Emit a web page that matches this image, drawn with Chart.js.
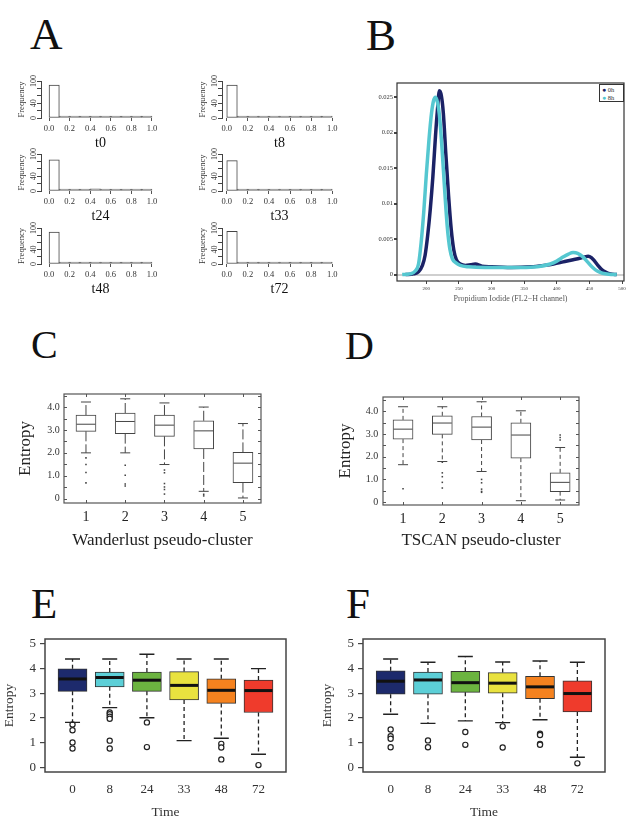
<!DOCTYPE html>
<html><head><meta charset="utf-8">
<script src="https://cdn.jsdelivr.net/npm/chart.js@4.4.1/dist/chart.umd.min.js"></script>
<style>
html,body{margin:0;padding:0;background:#fff}
body{width:627px;height:828px;position:relative;overflow:hidden;font-family:"Liberation Serif",serif}
canvas{position:absolute}
.letter{position:absolute;font-family:"Liberation Serif",serif;line-height:1;color:#111;white-space:nowrap}
.leg{position:absolute;border:1px solid #333;background:#fff;font-family:"Liberation Serif",serif;font-size:6.5px;line-height:7px;color:#333;padding:1px 2px}
.leg span{font-size:7px}
</style></head><body>
<div class="letter" style="left:30px;top:12px;font-size:45px">A</div>
<div class="letter" style="left:366px;top:13px;font-size:45px">B</div>
<div class="letter" style="left:31px;top:325px;font-size:40px">C</div>
<div class="letter" style="left:345px;top:326px;font-size:40px">D</div>
<div class="letter" style="left:31px;top:582px;font-size:43px">E</div>
<div class="letter" style="left:346px;top:582px;font-size:43px">F</div>
<div class="leg" style="left:599px;top:84px;width:19px;height:14px"><span style="color:#1b2266">&#9679;</span> 0h<br><span style="color:#55c7d0">&#9679;</span> 8h</div>
<script>
// ---------- Panel A: histograms ----------
const binCenters = [0.05,0.15,0.25,0.35,0.45,0.55,0.65,0.75,0.85,0.95];
const histTitles = ['t0','t8','t24','t33','t48','t72'];
const histTicksX = [0,0.2,0.4,0.6,0.8,1.0];
const histTicksY = [0,20,40,60,80,100];
const histLabelsY = ['0','','40','','','100'];
const freqT0  = [89,0,0,0,0,1,0,0,0,1];
const freqT8  = [89,0,0,0,0,0,0,0,1,1];
const freqT24 = [84,0,0,0,6,1,0,0,0,2];
const freqT33 = [82,0,0,0,2,5,2,0,0,1];
const freqT48 = [89,0,0,0,0,2,0,0,0,1];
const freqT72 = [91,0,0,0,0,1,0,0,0,1];

// ---------- Panel B: density curves ----------
const piX0h = [168,180,188,194,198,202,206,210,214,217,220,223,226,230,234,238,242,246,252,260,268,275,285,300,330,360,380,395,410,425,435,443,448,453,458,463,468,474,482,492];
const density0h = [0,0.0001,0.0004,0.0013,0.0027,0.0055,0.0092,0.0138,0.0195,0.0232,0.0259,0.0252,0.0228,0.0168,0.0112,0.0065,0.0035,0.0021,0.0015,0.0013,0.0014,0.0015,0.0012,0.0011,0.0010,0.0011,0.0013,0.0015,0.0018,0.0021,0.0023,0.0025,0.0026,0.0024,0.0019,0.0013,0.0008,0.0004,0.0001,0];
const piX8h = [163,175,183,188,192,196,200,204,208,211,214,217,220,224,228,232,236,240,245,252,265,290,320,345,370,390,400,410,418,425,432,440,447,455,462,470,480,492];
const density8h = [0,0.0001,0.0005,0.0015,0.0045,0.0088,0.0142,0.019,0.0228,0.0245,0.025,0.0243,0.0225,0.0178,0.012,0.0068,0.0036,0.0022,0.0017,0.0013,0.0011,0.0010,0.0010,0.0010,0.0011,0.0015,0.0019,0.0025,0.0029,0.0031,0.0030,0.0025,0.0018,0.0010,0.0005,0.0002,0.00005,0];
const piTicks = [200,250,300,350,400,450,500];
const densTicks = [0,0.005,0.01,0.015,0.02,0.025];
const densLabels = ['0','0.005','0.01','0.015','0.02','0.025'];

// ---------- Panels C, D: pseudo-cluster boxplots ----------
const clusterLabels = ['1','2','3','4','5'];
const entropyTicksCD = [0,1,2,3,4];
const entropyLabelsCD = ['0','1.0','2.0','3.0','4.0'];
const entropyMinorCD = [0,0.5,1,1.5,2,2.5,3,3.5,4,4.5];
const cLo  = [2.0,2.0,1.49,0.32,0.03];
const cQ1  = [2.94,2.84,2.72,2.17,0.70];
const cMed = [3.25,3.37,3.21,2.96,1.55];
const cQ3  = [3.65,3.74,3.65,3.40,2.02];
const cHi  = [4.22,4.36,4.18,4.0,3.28];
const cOut = [[1.78,1.49,1.14,0.69],[1.46,1.02,0.64,0.55],[1.25,1.13,0.66,0.51,0.4,0.2],[0.19,0.12],[]];
const dLo  = [1.65,1.79,1.35,0.06,0.09];
const dQ1  = [2.78,2.99,2.74,1.94,0.46];
const dMed = [3.22,3.49,3.31,2.96,0.87];
const dQ3  = [3.63,3.81,3.78,3.5,1.29];
const dHi  = [4.21,4.21,4.43,4.03,2.41];
const dOut = [[0.59],[1.76,1.29,1.12,0.87,0.62],[1.0,0.85,0.57,0.47,0.43],[],[2.96,2.85,2.74]];

// ---------- Panels E, F: entropy by time ----------
const timeLabels = ['0','8','24','33','48','72'];
const timeColors = ['#1d2a6c','#5ccfd7','#6cb440','#e9e23f','#f5821f','#ef3b2c'];
const entropyTicksEF = [0,1,2,3,4,5];
const eLo  = [1.82,2.42,2.01,1.08,1.18,0.53];
const eQ1  = [3.08,3.26,3.08,2.73,2.59,2.22];
const eMed = [3.58,3.64,3.53,3.32,3.12,3.11];
const eQ3  = [3.99,3.86,3.86,3.88,3.59,3.54];
const eHi  = [4.39,4.39,4.58,4.39,4.39,4.0];
const eOut = [[1.74,1.5,1.01,0.76],[2.22,2.15,2.05,1.97,1.08,0.76],[1.82,0.82],[],[0.95,0.8,0.32],[0.09]];
const fLo  = [2.15,1.78,1.88,1.81,1.93,0.41];
const fQ1  = [2.96,2.96,3.04,3.0,2.78,2.24];
const fMed = [3.49,3.54,3.43,3.41,3.26,2.99];
const fQ3  = [3.91,3.86,3.89,3.84,3.69,3.5];
const fHi  = [4.39,4.26,4.49,4.27,4.31,4.26];
const fOut = [[1.53,1.26,1.16,0.81],[1.09,0.81],[1.43,0.91],[1.66,0.8],[1.36,1.31,0.95,0.91],[0.16]];

// ---------- helpers ----------
const SERIF = "'Liberation Serif','Times New Roman',serif";
Chart.defaults.font.family = SERIF;
Chart.defaults.color = '#222';
Chart.defaults.animation = false;
Chart.defaults.plugins.legend.display = false;
Chart.defaults.plugins.tooltip.enabled = false;

function makeChart(rect, m, axW, axH, config) {
  const [L,T,R,B] = rect;
  const cv = document.createElement('canvas');
  const w = Math.round(R - L + m[0] + m[2]), h = Math.round(B - T + m[1] + m[3]);
  cv.width = w; cv.height = h;
  cv.style.left = (L - m[0]) + 'px'; cv.style.top = (T - m[1]) + 'px';
  cv.style.width = w + 'px'; cv.style.height = h + 'px';
  document.body.appendChild(cv);
  const o = config.options;
  o.responsive = false; o.maintainAspectRatio = false; o.animation = false;
  o.devicePixelRatio = 1;
  o.layout = {padding: {left: m[0] - axW, top: m[1], right: m[2], bottom: m[3] - axH}};
  o.scales.x.afterFit = s => { s.height = axH; s.paddingLeft = 0; s.paddingRight = 0; };
  o.scales.y.afterFit = s => { s.width = axW; s.paddingTop = 0; s.paddingBottom = 0; };
  return new Chart(cv, config);
}
const setTicks = arr => (s => { s.ticks = arr.map(v => ({value: v})); });

function framePlugin(color, width, minorY, tickX) {
  return {
    id: 'frame',
    afterDraw(chart) {
      const {ctx, chartArea: a, scales: {x, y}} = chart;
      ctx.save();
      ctx.strokeStyle = color;
      if (minorY) {
        ctx.lineWidth = 1;
        ctx.beginPath();
        minorY.forEach(v => { const py = Math.round(y.getPixelForValue(v)) + 0.5;
          ctx.moveTo(a.left, py); ctx.lineTo(a.left + 3, py);
          ctx.moveTo(a.right, py); ctx.lineTo(a.right - 3, py); });
        tickX.forEach(v => { const px = Math.round(x.getPixelForValue(v)) + 0.5;
          ctx.moveTo(px, a.top); ctx.lineTo(px, a.top + 3);
          ctx.moveTo(px, a.bottom); ctx.lineTo(px, a.bottom - 3); });
        ctx.stroke();
      }
      ctx.lineWidth = width;
      ctx.strokeRect(a.left, a.top, a.right - a.left, a.bottom - a.top);
      ctx.restore();
    }
  };
}

function boxPlugin(lo, q1, med, q3, hi, st) {
  return {
    id: 'boxWhisk',
    afterDatasetsDraw(chart) {
      const {ctx, scales: {x, y}} = chart;
      ctx.save();
      med.forEach((mv, i) => {
        const px = x.getPixelForValue(i + 1);
        const yLo = y.getPixelForValue(lo[i]), yQ1 = y.getPixelForValue(q1[i]);
        const yQ3 = y.getPixelForValue(q3[i]), yHi = y.getPixelForValue(hi[i]);
        const yMed = y.getPixelForValue(mv);
        ctx.strokeStyle = st.color; ctx.lineWidth = st.whiskW;
        ctx.setLineDash(st.dash);
        ctx.beginPath();
        ctx.moveTo(px, yQ3); ctx.lineTo(px, yHi);
        ctx.moveTo(px, yQ1); ctx.lineTo(px, yLo);
        ctx.stroke();
        ctx.setLineDash([]);
        ctx.lineWidth = st.capLW;
        ctx.beginPath();
        ctx.moveTo(px - st.cap / 2, yHi); ctx.lineTo(px + st.cap / 2, yHi);
        ctx.moveTo(px - st.cap / 2, yLo); ctx.lineTo(px + st.cap / 2, yLo);
        ctx.stroke();
        ctx.strokeStyle = st.medColor; ctx.lineWidth = st.medW;
        ctx.beginPath();
        ctx.moveTo(px - st.box / 2 + 0.5, yMed); ctx.lineTo(px + st.box / 2 - 0.5, yMed);
        ctx.stroke();
      });
      ctx.restore();
    }
  };
}

// ---------- Panel A ----------
function histChart(rect, xmin, xmax, freq, title) {
  return makeChart(rect, [26, 8, 6, 38], 23.5, 32.6, {
    type: 'bar',
    data: {datasets: [{
      data: freq.map((f, i) => ({x: binCenters[i], y: f})),
      barPercentage: 1, categoryPercentage: 1, minBarLength: 2,
      backgroundColor: c => (c.raw && c.raw.y > 20 ? '#ffffff' : '#9a9a9a'),
      borderColor: c => (c.raw && c.raw.y > 20 ? '#444' : '#6a6a6a'),
      borderWidth: 1, borderSkipped: false
    }]},
    options: {
      scales: {
        x: {type: 'linear', min: xmin, max: xmax, offset: false,
            afterBuildTicks: setTicks(histTicksX),
            border: {display: false},
            grid: {display: true, offset: false, drawOnChartArea: false, drawTicks: true, tickLength: 3, color: '#555'},
            ticks: {font: {size: 8.5, lineHeight: 1}, padding: 3.3, color: '#333', maxRotation: 0, autoSkip: false,
                    callback: v => v.toFixed(1)},
            title: {display: true, text: title, font: {size: 14, lineHeight: 1}, padding: 0, color: '#111'}},
        y: {min: 0, max: 100,
            afterBuildTicks: setTicks(histTicksY),
            border: {display: true, color: '#444', width: 1},
            grid: {drawOnChartArea: false, drawTicks: true, tickLength: 4, color: '#444'},
            ticks: {font: {size: 8, lineHeight: 1}, padding: -3, color: '#333', minRotation: 90, maxRotation: 90,
                    autoSkip: false, crossAlign: 'center', callback: (v, i) => histLabelsY[i]},
            title: {display: true, text: 'Frequency', font: {size: 8.5, lineHeight: 1}, padding: 0, color: '#333'}}
      }
    }
  });
}
histChart([41, 81, 160, 118], -0.078, 1.078, freqT0, histTitles[0]);
histChart([222, 81, 337, 118], -0.045, 1.045, freqT8, histTitles[1]);
histChart([41, 154, 160, 191], -0.078, 1.078, freqT24, histTitles[2]);
histChart([222, 154, 337, 191], -0.045, 1.045, freqT33, histTitles[3]);
histChart([41, 228, 160, 264], -0.078, 1.078, freqT48, histTitles[4]);
histChart([222, 228, 337, 264], -0.045, 1.045, freqT72, histTitles[5]);

// ---------- Panel B ----------
makeChart([397, 83, 624, 281], [24, 4, 3, 24], 22, 22, {
  type: 'line',
  data: {datasets: [
    {label: '0h', data: piX0h.map((v, i) => ({x: v, y: density0h[i]})), borderColor: '#1b2266',
     borderWidth: 3.5, pointRadius: 0, cubicInterpolationMode: 'monotone', order: 1},
    {label: '8h', data: piX8h.map((v, i) => ({x: v, y: density8h[i]})), borderColor: '#55c7d0',
     borderWidth: 3.5, pointRadius: 0, cubicInterpolationMode: 'monotone', order: 0}
  ]},
  options: {
    scales: {
      x: {type: 'linear', min: 155, max: 503,
          afterBuildTicks: setTicks(piTicks),
          border: {display: false},
          grid: {display: true, drawOnChartArea: false, drawTicks: true, tickLength: 3, color: '#444'},
          ticks: {font: {size: 5, lineHeight: 1}, padding: 2, color: '#333', maxRotation: 0, autoSkip: false},
          title: {display: true, text: 'Propidium Iodide (FL2\u2212H channel)', font: {size: 8, lineHeight: 1}, padding: 0, color: '#555'}},
      y: {min: -0.0009, max: 0.027,
          afterBuildTicks: setTicks(densTicks),
          border: {display: false},
          grid: {drawOnChartArea: true, drawTicks: true, tickLength: 3, lineWidth: 2,
                 color: c => (c.tick && c.tick.value === 0 ? '#cfcfcf' : 'rgba(0,0,0,0)'), tickColor: '#444'},
          ticks: {font: {size: 6.5, lineHeight: 1}, padding: 1, color: '#333', autoSkip: false,
                  callback: (v, i) => densLabels[i]}}
    }
  },
  plugins: [framePlugin('#333', 1.2)]
});

// ---------- Panels C, D ----------
function clusterChart(rect, m, axW, axH, xr, yr, lo, q1, med, q3, hi, out, dash, xtitle, ypad, xpad) {
  const flatOut = [];
  out.forEach((arr, i) => arr.forEach(v => flatOut.push({x: i + 1, y: v})));
  const pos = clusterLabels.map((_, i) => i + 1);
  return makeChart(rect, m, axW, axH, {
    type: 'bar',
    data: {datasets: [
      {type: 'bar', data: pos.map((p, i) => ({x: p, y: [q1[i], q3[i]]})),
       backgroundColor: '#fff', borderColor: '#444', borderWidth: 1, borderSkipped: false, barThickness: 20},
      {type: 'scatter', data: flatOut, pointStyle: 'rect', pointRadius: 1.1, backgroundColor: '#444', borderWidth: 0}
    ]},
    options: {
      scales: {
        x: {type: 'linear', min: xr[0], max: xr[1], offset: false,
            afterBuildTicks: setTicks(pos),
            border: {display: false}, grid: {display: false, drawTicks: false, offset: false},
            ticks: {font: {size: 14, lineHeight: 1}, padding: xpad, color: '#222', maxRotation: 0, autoSkip: false,
                    callback: (v, i) => clusterLabels[i]},
            title: {display: true, text: xtitle, font: {size: 17, lineHeight: 1}, padding: 0, color: '#222'}},
        y: {min: yr[0], max: yr[1],
            afterBuildTicks: setTicks(entropyTicksCD),
            border: {display: false}, grid: {display: false, drawTicks: false},
            ticks: {font: {size: 10, lineHeight: 1}, padding: ypad, color: '#333', autoSkip: false,
                    callback: (v, i) => entropyLabelsCD[i]},
            title: {display: true, text: 'Entropy', font: {size: 17, lineHeight: 1}, padding: 0, color: '#222'}}
      }
    },
    plugins: [boxPlugin(lo, q1, med, q3, hi, {color: '#444', whiskW: 1, dash: dash, capLW: 1, cap: 10,
              medColor: '#444', medW: 1, box: 20}),
              framePlugin('#555', 1.2, entropyMinorCD, pos)]
  });
}
clusterChart([64, 394, 261, 503], [50, 6, 6, 48], 47.3, 46.1, [0.44, 5.46], [-0.19, 4.57],
  cLo, cQ1, cMed, cQ3, cHi, cOut, [10, 3], 'Wanderlust pseudo-cluster', 4.3, 7.3);
clusterChart([383, 397, 579, 505], [48, 6, 6, 46], 45.5, 44.5, [0.49, 5.48], [-0.13, 4.64],
  dLo, dQ1, dMed, dQ3, dHi, dOut, [4, 3], 'TSCAN pseudo-cluster', 4.7, 7.7);

// ---------- Panels E, F ----------
function timeChart(rect, axW, lo, q1, med, q3, hi, out) {
  const flatOut = [];
  out.forEach((arr, i) => arr.forEach(v => flatOut.push({x: i + 1, y: v})));
  const pos = timeLabels.map((_, i) => i + 1);
  return makeChart(rect, [44, 6, 6, 50], axW, 47.2, {
    type: 'bar',
    data: {datasets: [
      {type: 'bar', data: pos.map((p, i) => ({x: p, y: [q1[i], q3[i]]})),
       backgroundColor: timeColors, borderColor: '#333', borderWidth: 1, borderSkipped: false, barThickness: 29},
      {type: 'scatter', data: flatOut, pointStyle: 'circle', pointRadius: 2.6, backgroundColor: '#fff',
       borderColor: '#222', borderWidth: 1.2}
    ]},
    options: {
      scales: {
        x: {type: 'linear', min: 0.26, max: 6.74, offset: false,
            afterBuildTicks: setTicks(pos),
            border: {display: false}, grid: {display: false, drawTicks: false, offset: false},
            ticks: {font: {size: 13, lineHeight: 1}, padding: 11.5, color: '#333', maxRotation: 0, autoSkip: false,
                    callback: (v, i) => timeLabels[i]},
            title: {display: true, text: 'Time', font: {size: 13.5, lineHeight: 1}, padding: 0, color: '#333'}},
        y: {min: -0.19, max: 5.2,
            afterBuildTicks: setTicks(entropyTicksEF),
            border: {display: false},
            grid: {display: true, drawOnChartArea: false, drawTicks: true, tickLength: 5, color: '#444', lineWidth: 1.2},
            ticks: {font: {size: 13, lineHeight: 1}, padding: 4, color: '#333', autoSkip: false},
            title: {display: true, text: 'Entropy', font: {size: 13.5, lineHeight: 1}, padding: 0, color: '#333'}}
      }
    },
    plugins: [boxPlugin(lo, q1, med, q3, hi, {color: '#222', whiskW: 1.3, dash: [4, 3], capLW: 1.4, cap: 15,
              medColor: '#111', medW: 3, box: 29}),
              framePlugin('#444', 1.5)]
  });
}
timeChart([45, 639, 286, 772], 42.25, eLo, eQ1, eMed, eQ3, eHi, eOut);
timeChart([363, 639, 605, 772], 42, fLo, fQ1, fMed, fQ3, fHi, fOut);
</script>
</body></html>
